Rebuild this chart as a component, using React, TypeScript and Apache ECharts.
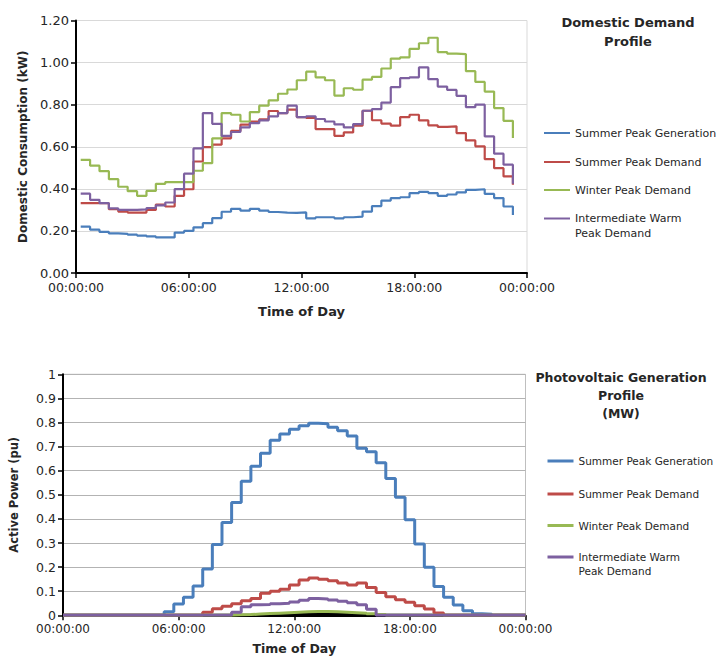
import React, { useEffect, useRef } from "react";
import * as echarts from "echarts";

// ---------- shared ----------
const SERIES_NAMES = [
  "Summer Peak Generation",
  "Summer Peak Demand",
  "Winter Peak Demand",
  "Intermediate Warm Peak Demand",
];
const COLORS = ["#4A7EBB", "#BE4B48", "#98B954", "#7D60A0"];
const X_TICK_HOURS = [0, 6, 12, 18, 24];

// half-hour slots, first slot boundary at 00:15
const FIRST_SLOT_HOUR = 0.25;
const SLOT_HOURS = 0.5;

// ---------- top chart: Domestic Demand Profile (kW), 47 slot values ----------
const DEMAND_SUMMER_GEN = [
  0.22, 0.206, 0.195, 0.188, 0.186, 0.182, 0.178, 0.174, 0.169, 0.169,
  0.192, 0.2, 0.217, 0.237, 0.261, 0.291, 0.305, 0.296, 0.305, 0.296,
  0.29, 0.287, 0.286, 0.288, 0.26, 0.265, 0.265, 0.26, 0.265, 0.268,
  0.292, 0.318, 0.344, 0.356, 0.36, 0.38, 0.386, 0.38, 0.367, 0.373,
  0.383, 0.395, 0.398, 0.376, 0.356, 0.316, 0.276,
];
const DEMAND_SUMMER_DEM = [
  0.332, 0.332, 0.332, 0.303, 0.292, 0.287, 0.287, 0.3, 0.325, 0.316,
  0.367, 0.398, 0.53, 0.598, 0.61, 0.64, 0.675, 0.705, 0.72, 0.73,
  0.77, 0.76, 0.776, 0.741, 0.737, 0.684, 0.684, 0.652, 0.668, 0.7,
  0.771, 0.726, 0.71, 0.7, 0.741, 0.752, 0.725, 0.702, 0.694, 0.697,
  0.665, 0.63, 0.602, 0.541, 0.498, 0.459, 0.419,
];
const DEMAND_WINTER_DEM = [
  0.538, 0.51, 0.484, 0.446, 0.41, 0.389, 0.367, 0.39, 0.424, 0.432,
  0.432, 0.432, 0.486, 0.522, 0.64, 0.76, 0.752, 0.72, 0.765, 0.795,
  0.82, 0.852, 0.872, 0.916, 0.957, 0.93, 0.916, 0.843, 0.878, 0.871,
  0.919, 0.932, 0.972, 1.019, 1.025, 1.065, 1.092, 1.118, 1.05, 1.043,
  1.04, 0.959, 0.908, 0.862, 0.784, 0.723, 0.641,
];
const DEMAND_INTERMEDIATE = [
  0.377, 0.348, 0.332, 0.307, 0.3, 0.3, 0.302, 0.309, 0.321, 0.335,
  0.399, 0.472, 0.592, 0.76, 0.709, 0.652, 0.67, 0.692, 0.712, 0.725,
  0.744, 0.76, 0.795, 0.741, 0.745, 0.732, 0.72, 0.706, 0.692, 0.708,
  0.771, 0.779, 0.81, 0.883, 0.926, 0.93, 0.977, 0.921, 0.886, 0.87,
  0.842, 0.788, 0.8, 0.649, 0.567, 0.515, 0.424,
];
const DEMAND_Y_TICKS = { min: 0, max: 1.2, step: 0.2 };

// ---------- bottom chart: Photovoltaic Generation Profile (pu), 48 slot values ----------
const PV_SUMMER_GEN = [
  0, 0, 0, 0, 0, 0, 0, 0, 0, 0,
  0.015, 0.047, 0.075, 0.122, 0.192, 0.294, 0.385, 0.468, 0.556, 0.618,
  0.672, 0.726, 0.752, 0.772, 0.786, 0.797, 0.795, 0.78, 0.766, 0.744,
  0.693, 0.679, 0.633, 0.568, 0.49, 0.396, 0.296, 0.199, 0.119, 0.075,
  0.043, 0.019, 0.006, 0.004, 0, 0, 0, 0,
];
const PV_SUMMER_DEM = [
  0, 0, 0, 0, 0, 0, 0, 0, 0, 0,
  0, 0, 0, 0, 0.013, 0.027, 0.038, 0.048, 0.06, 0.07,
  0.092, 0.1, 0.108, 0.126, 0.146, 0.155, 0.15, 0.143, 0.134, 0.126,
  0.134, 0.115, 0.095, 0.077, 0.065, 0.054, 0.04, 0.026, 0.01, 0,
  0, 0, 0, 0, 0, 0, 0, 0,
];
const PV_WINTER_DEM = [
  0, 0, 0, 0, 0, 0, 0, 0, 0, 0,
  0, 0, 0, 0, 0, 0, 0, 0.002, 0.003, 0.005,
  0.007, 0.009, 0.011, 0.013, 0.015, 0.016, 0.016, 0.015, 0.013, 0.011,
  0.009, 0.006, 0.003, 0, 0, 0, 0, 0, 0, 0,
  0, 0, 0, 0, 0, 0, 0, 0,
];
const PV_INTERMEDIATE = [
  0, 0, 0, 0, 0, 0, 0, 0, 0, 0,
  0, 0, 0, 0, 0, 0, 0, 0.013, 0.035, 0.044,
  0.045, 0.048, 0.05, 0.055, 0.062, 0.07, 0.068, 0.063, 0.058, 0.052,
  0.044, 0.025, 0, 0, 0, 0, 0, 0, 0, 0,
  0, 0, 0, 0, 0, 0, 0, 0,
];
const PV_UNLABELLED = [
  0, 0, 0, 0, 0, 0, 0, 0, 0, 0,
  0, 0, 0, 0, 0, 0, 0, 0, 0, 0,
  0, 0, 0.002, 0.004, 0.005, 0.006, 0.006, 0.005, 0.003, 0.001,
  0, 0, 0, 0, 0, 0, 0, 0, 0, 0,
  0, 0, 0, 0, 0, 0, 0, 0,
];
const PV_Y_TICKS = { min: 0, max: 1, step: 0.1 };

const FONT = "'DejaVu Sans', Verdana, sans-serif";
const TEXT = "#262626";

const slotHour = (i: number) => FIRST_SLOT_HOUR + i * SLOT_HOURS;
const toSteps = (vals: number[]) => vals.map((v, i) => [slotHour(i), v]);
const toStepsFullDay = (vals: number[]) => [
  [0, vals[0]],
  ...toSteps(vals),
  [24, vals[vals.length - 1]],
];

const fmtTime = (v: number) => {
  const h = Math.round(v) % 24;
  return (h < 10 ? "0" : "") + h + ":00:00";
};

export default function App() {
  const ref = useRef<HTMLDivElement>(null);

  useEffect(() => {
    if (!ref.current) return;
    const chart = echarts.init(ref.current, undefined, { renderer: "svg" });

    const G1 = { left: 76, top: 20.5, width: 451, height: 252.5 };
    const G2 = { left: 63, top: 374.3, width: 462.5, height: 241 };

    const xAxisBase = (gridIndex: number, fontSize: number, nameGap: number, nameSize: number) => ({
      type: "value",
      gridIndex,
      min: X_TICK_HOURS[0],
      max: X_TICK_HOURS[X_TICK_HOURS.length - 1],
      interval: X_TICK_HOURS[1] - X_TICK_HOURS[0],
      axisLine: { show: true, onZero: false, lineStyle: { color: "#000", width: 2 } },
      axisTick: { show: true, length: 5, lineStyle: { color: "#000", width: 1.5 } },
      axisLabel: { formatter: fmtTime, color: TEXT, fontSize, fontFamily: FONT, margin: 8 },
      splitLine: { show: false },
      name: "Time of Day",
      nameLocation: "middle",
      nameGap,
      nameTextStyle: { fontWeight: "bold", fontSize: nameSize, color: TEXT, fontFamily: FONT },
    });

    const legendFor = (
      name: string,
      left: number,
      centerY: number,
      lineH: number,
      iconW: number,
      width: number,
      fontSize: number,
      multi: boolean
    ) => ({
      data: [name],
      orient: "vertical",
      left,
      top: multi ? centerY - lineH * 1.5 : centerY - lineH / 2,
      padding: 0,
      itemWidth: iconW,
      itemHeight: lineH,
      itemGap: 0,
      selectedMode: false,
      lineStyle: { width },
      itemStyle: { opacity: 0 },
      formatter: multi ? "\nIntermediate Warm\nPeak Demand" : "{name}",
      textStyle: { fontSize, color: TEXT, fontFamily: FONT, lineHeight: lineH },
    });

    const topSeriesData = [DEMAND_SUMMER_GEN, DEMAND_SUMMER_DEM, DEMAND_WINTER_DEM, DEMAND_INTERMEDIATE];
    const pvSeriesData = [PV_SUMMER_GEN, PV_SUMMER_DEM, PV_WINTER_DEM, PV_INTERMEDIATE];

    const series: any[] = [];
    topSeriesData.forEach((vals, i) => {
      series.push({
        type: "line",
        name: SERIES_NAMES[i],
        xAxisIndex: 0,
        yAxisIndex: 0,
        step: "end",
        symbol: "none",
        data: toSteps(vals),
        color: COLORS[i],
        lineStyle: { color: COLORS[i], width: 2.2 },
      });
    });
    series.push({
      type: "line",
      name: "PV other",
      xAxisIndex: 1,
      yAxisIndex: 1,
      step: "end",
      symbol: "none",
      data: toStepsFullDay(PV_UNLABELLED),
      color: "#000",
      lineStyle: { color: "#000", width: 3 },
    });
    pvSeriesData.forEach((vals, i) => {
      series.push({
        type: "line",
        name: SERIES_NAMES[i],
        xAxisIndex: 1,
        yAxisIndex: 1,
        step: "end",
        symbol: "none",
        data: toStepsFullDay(vals),
        color: COLORS[i],
        lineStyle: { color: COLORS[i], width: 3 },
      });
    });

    const option: any = {
      animation: false,
      backgroundColor: "#fff",
      textStyle: { fontFamily: FONT },
      grid: [
        { ...G1, show: true, borderColor: "#d9d9d9", borderWidth: 1, containLabel: false },
        { ...G2, show: true, borderColor: "#bfbfbf", borderWidth: 1, containLabel: false },
      ],
      xAxis: [xAxisBase(0, 12.5, 32, 13), xAxisBase(1, 12, 27, 12.5)],
      yAxis: [
        {
          type: "value",
          gridIndex: 0,
          min: DEMAND_Y_TICKS.min,
          max: DEMAND_Y_TICKS.max,
          interval: DEMAND_Y_TICKS.step,
          axisLine: { show: true, lineStyle: { color: "#000", width: 2 } },
          axisTick: { show: true, length: 5, lineStyle: { color: "#000", width: 1.5 } },
          axisLabel: {
            formatter: (v: number) => v.toFixed(2),
            color: TEXT,
            fontSize: 13,
            fontFamily: FONT,
            margin: 7,
          },
          splitLine: { show: true, lineStyle: { color: "#d9d9d9", width: 1 } },
          name: "Domestic Consumption (kW)",
          nameLocation: "middle",
          nameGap: 46,
          nameTextStyle: { fontWeight: "bold", fontSize: 12, color: TEXT, fontFamily: FONT },
        },
        {
          type: "value",
          gridIndex: 1,
          min: PV_Y_TICKS.min,
          max: PV_Y_TICKS.max,
          interval: PV_Y_TICKS.step,
          axisLine: { show: true, lineStyle: { color: "#000", width: 2 } },
          axisTick: { show: true, length: 5, lineStyle: { color: "#000", width: 1.5 } },
          axisLabel: {
            formatter: (v: number) => String(Math.round(v * 10) / 10),
            color: TEXT,
            fontSize: 12.5,
            fontFamily: FONT,
            margin: 7,
          },
          splitLine: { show: true, lineStyle: { color: "#b3b3b3", width: 1 } },
          name: "Active Power (pu)",
          nameLocation: "middle",
          nameGap: 43,
          nameTextStyle: { fontWeight: "bold", fontSize: 11.5, color: TEXT, fontFamily: FONT },
        },
      ],
      legend: [
        legendFor(SERIES_NAMES[0], 543, 133, 15, 26, 2, 11, false),
        legendFor(SERIES_NAMES[1], 543, 162, 15, 26, 2, 11, false),
        legendFor(SERIES_NAMES[2], 543, 190, 15, 26, 2, 11, false),
        legendFor(SERIES_NAMES[3], 543, 218.5, 15, 26, 2, 11, true),
        legendFor(SERIES_NAMES[0], 546, 461, 14, 26, 3, 10.5, false),
        legendFor(SERIES_NAMES[1], 546, 494, 14, 26, 3, 10.5, false),
        legendFor(SERIES_NAMES[2], 546, 525.5, 14, 26, 3, 10.5, false),
        legendFor(SERIES_NAMES[3], 546, 557, 14, 26, 3, 10.5, true),
      ],
      graphic: [
        {
          type: "text",
          x: 628,
          y: 13,
          style: {
            text: "Domestic Demand\nProfile",
            align: "center",
            textAlign: "center",
            verticalAlign: "top",
            font: `bold 13px ${FONT}`,
            lineHeight: 19,
            fill: TEXT,
          },
        },
        {
          type: "text",
          x: 621,
          y: 368,
          style: {
            text: "Photovoltaic Generation\nProfile\n(MW)",
            align: "center",
            textAlign: "center",
            verticalAlign: "top",
            font: `bold 12.5px ${FONT}`,
            lineHeight: 18,
            fill: TEXT,
          },
        },
      ],
      series,
    };

    chart.setOption(option);
    return () => chart.dispose();
  }, []);

  return (
    <div
      ref={ref}
      style={{ position: "absolute", left: 0, top: 0, width: 720, height: 658 }}
    />
  );
}
